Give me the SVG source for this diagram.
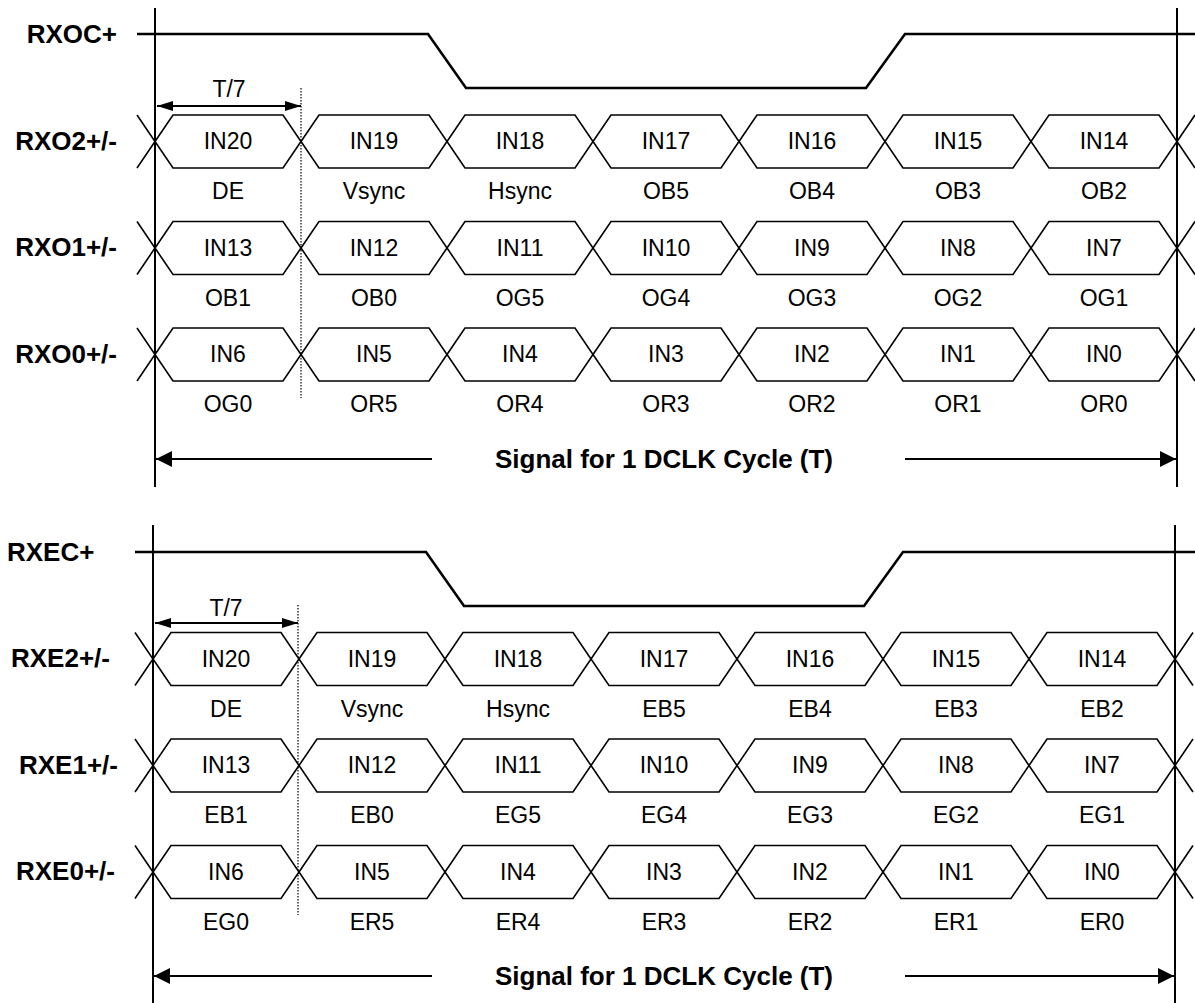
<svg xmlns="http://www.w3.org/2000/svg" xmlns:xlink="http://www.w3.org/1999/xlink" width="1195" height="1003" viewBox="0 0 1195 1003">
<style>
.bg{fill:#fff}
.clk{fill:none;stroke:#000;stroke-width:2.6;stroke-linejoin:miter}
.vl{stroke:#000;stroke-width:2;fill:none}
.dot{stroke:#000;stroke-width:1.2;stroke-dasharray:1.5 1.5;fill:none}
.hx{fill:#fff;stroke:#000;stroke-width:1.6;stroke-linejoin:miter}
.xe{fill:none;stroke:#000;stroke-width:1.6}
.arr{stroke:#000;stroke-width:2;fill:none}
.lbl{font-family:"Liberation Sans",Arial,sans-serif;font-weight:bold;font-size:26px;fill:#000}
.sig{font-family:"Liberation Sans",Arial,sans-serif;font-weight:bold;font-size:26px;fill:#000;text-anchor:middle}
.cell{font-family:"Liberation Sans",Arial,sans-serif;font-size:23px;fill:#000;text-anchor:middle}
</style>
<defs>
<polygon id="hex" points="0,0 18,-26.5 128,-26.5 146,0 128,26.5 18,26.5"/>
<path id="xl" d="M-18,-26.5 L0,0 L-18,26.5"/>
<path id="xr" d="M18,-26.5 L0,0 L18,26.5"/>
<marker id="big" viewBox="0 0 16 16" refX="16" refY="8" markerWidth="16" markerHeight="16" markerUnits="userSpaceOnUse" orient="auto"><path d="M0,0 L16,8 L0,16 z" fill="#000"/></marker>
<marker id="sm" viewBox="0 0 16 10" refX="16" refY="5" markerWidth="16" markerHeight="10" markerUnits="userSpaceOnUse" orient="auto"><path d="M0,0 L16,5 L0,10 z" fill="#000"/></marker>
</defs>
<rect class="bg" x="0" y="0" width="1195" height="1003"/>

<!-- ===== TOP PANEL (odd) ===== -->
<g id="top-frame">
<line class="vl" x1="155" y1="8" x2="155" y2="487"/>
<line class="vl" x1="1177" y1="8" x2="1177" y2="487"/>
<line class="dot" x1="301" y1="88" x2="301" y2="398"/>
</g>
<g id="RXOC">
<text class="lbl" x="117" y="43" text-anchor="end">RXOC+</text>
<polyline class="clk" points="137,34 428,34 466,88 866,88 905,34 1195,34"/>
</g>
<g id="top-t7">
<text class="cell" x="229" y="97">T/7</text>
<line class="arr" x1="229" y1="106" x2="157" y2="106" marker-end="url(#sm)"/>
<line class="arr" x1="229" y1="106" x2="301" y2="106" marker-end="url(#sm)"/>
</g>

<g id="RXO2">
<text class="lbl" x="117" y="149.5" text-anchor="end">RXO2+/-</text>
<use href="#xl" class="xe" x="155" y="141.5"/>
<use href="#xr" class="xe" x="1177" y="141.5"/>
<g id="o2-0"><use href="#hex" class="hx" x="155" y="141.5"/><text class="cell" x="228" y="149">IN20</text><text class="cell" x="228" y="199">DE</text></g>
<g id="o2-1"><use href="#hex" class="hx" x="301" y="141.5"/><text class="cell" x="374" y="149">IN19</text><text class="cell" x="374" y="199">Vsync</text></g>
<g id="o2-2"><use href="#hex" class="hx" x="447" y="141.5"/><text class="cell" x="520" y="149">IN18</text><text class="cell" x="520" y="199">Hsync</text></g>
<g id="o2-3"><use href="#hex" class="hx" x="593" y="141.5"/><text class="cell" x="666" y="149">IN17</text><text class="cell" x="666" y="199">OB5</text></g>
<g id="o2-4"><use href="#hex" class="hx" x="739" y="141.5"/><text class="cell" x="812" y="149">IN16</text><text class="cell" x="812" y="199">OB4</text></g>
<g id="o2-5"><use href="#hex" class="hx" x="885" y="141.5"/><text class="cell" x="958" y="149">IN15</text><text class="cell" x="958" y="199">OB3</text></g>
<g id="o2-6"><use href="#hex" class="hx" x="1031" y="141.5"/><text class="cell" x="1104" y="149">IN14</text><text class="cell" x="1104" y="199">OB2</text></g>
</g>

<g id="RXO1">
<text class="lbl" x="117" y="256" text-anchor="end">RXO1+/-</text>
<use href="#xl" class="xe" x="155" y="248"/>
<use href="#xr" class="xe" x="1177" y="248"/>
<g id="o1-0"><use href="#hex" class="hx" x="155" y="248"/><text class="cell" x="228" y="255.5">IN13</text><text class="cell" x="228" y="305.5">OB1</text></g>
<g id="o1-1"><use href="#hex" class="hx" x="301" y="248"/><text class="cell" x="374" y="255.5">IN12</text><text class="cell" x="374" y="305.5">OB0</text></g>
<g id="o1-2"><use href="#hex" class="hx" x="447" y="248"/><text class="cell" x="520" y="255.5">IN11</text><text class="cell" x="520" y="305.5">OG5</text></g>
<g id="o1-3"><use href="#hex" class="hx" x="593" y="248"/><text class="cell" x="666" y="255.5">IN10</text><text class="cell" x="666" y="305.5">OG4</text></g>
<g id="o1-4"><use href="#hex" class="hx" x="739" y="248"/><text class="cell" x="812" y="255.5">IN9</text><text class="cell" x="812" y="305.5">OG3</text></g>
<g id="o1-5"><use href="#hex" class="hx" x="885" y="248"/><text class="cell" x="958" y="255.5">IN8</text><text class="cell" x="958" y="305.5">OG2</text></g>
<g id="o1-6"><use href="#hex" class="hx" x="1031" y="248"/><text class="cell" x="1104" y="255.5">IN7</text><text class="cell" x="1104" y="305.5">OG1</text></g>
</g>

<g id="RXO0">
<text class="lbl" x="117" y="362.5" text-anchor="end">RXO0+/-</text>
<use href="#xl" class="xe" x="155" y="354.5"/>
<use href="#xr" class="xe" x="1177" y="354.5"/>
<g id="o0-0"><use href="#hex" class="hx" x="155" y="354.5"/><text class="cell" x="228" y="362">IN6</text><text class="cell" x="228" y="412">OG0</text></g>
<g id="o0-1"><use href="#hex" class="hx" x="301" y="354.5"/><text class="cell" x="374" y="362">IN5</text><text class="cell" x="374" y="412">OR5</text></g>
<g id="o0-2"><use href="#hex" class="hx" x="447" y="354.5"/><text class="cell" x="520" y="362">IN4</text><text class="cell" x="520" y="412">OR4</text></g>
<g id="o0-3"><use href="#hex" class="hx" x="593" y="354.5"/><text class="cell" x="666" y="362">IN3</text><text class="cell" x="666" y="412">OR3</text></g>
<g id="o0-4"><use href="#hex" class="hx" x="739" y="354.5"/><text class="cell" x="812" y="362">IN2</text><text class="cell" x="812" y="412">OR2</text></g>
<g id="o0-5"><use href="#hex" class="hx" x="885" y="354.5"/><text class="cell" x="958" y="362">IN1</text><text class="cell" x="958" y="412">OR1</text></g>
<g id="o0-6"><use href="#hex" class="hx" x="1031" y="354.5"/><text class="cell" x="1104" y="362">IN0</text><text class="cell" x="1104" y="412">OR0</text></g>
</g>

<g id="top-cycle">
<line class="arr" x1="432" y1="459" x2="156" y2="459" marker-end="url(#big)"/>
<line class="arr" x1="905" y1="459" x2="1176" y2="459" marker-end="url(#big)"/>
<text class="sig" x="664" y="468">Signal for 1 DCLK Cycle (T)</text>
</g>

<!-- ===== BOTTOM PANEL (even) ===== -->
<g id="bot-frame">
<line class="vl" x1="153" y1="525" x2="153" y2="1003"/>
<line class="vl" x1="1175" y1="525" x2="1175" y2="1003"/>
<line class="dot" x1="298" y1="605" x2="298" y2="915"/>
</g>
<g id="RXEC">
<text class="lbl" x="7" y="561">RXEC+</text>
<polyline class="clk" points="135,552 426,552 464,606 864,606 903,552 1195,552"/>
</g>
<g id="bot-t7">
<text class="cell" x="226" y="616">T/7</text>
<line class="arr" x1="226" y1="623" x2="155" y2="623" marker-end="url(#sm)"/>
<line class="arr" x1="226" y1="623" x2="298" y2="623" marker-end="url(#sm)"/>
</g>

<g id="RXE2">
<text class="lbl" x="110" y="667" text-anchor="end">RXE2+/-</text>
<use href="#xl" class="xe" x="153" y="659"/>
<use href="#xr" class="xe" x="1175" y="659"/>
<g id="e2-0"><use href="#hex" class="hx" x="153" y="659"/><text class="cell" x="226" y="666.5">IN20</text><text class="cell" x="226" y="716.5">DE</text></g>
<g id="e2-1"><use href="#hex" class="hx" x="299" y="659"/><text class="cell" x="372" y="666.5">IN19</text><text class="cell" x="372" y="716.5">Vsync</text></g>
<g id="e2-2"><use href="#hex" class="hx" x="445" y="659"/><text class="cell" x="518" y="666.5">IN18</text><text class="cell" x="518" y="716.5">Hsync</text></g>
<g id="e2-3"><use href="#hex" class="hx" x="591" y="659"/><text class="cell" x="664" y="666.5">IN17</text><text class="cell" x="664" y="716.5">EB5</text></g>
<g id="e2-4"><use href="#hex" class="hx" x="737" y="659"/><text class="cell" x="810" y="666.5">IN16</text><text class="cell" x="810" y="716.5">EB4</text></g>
<g id="e2-5"><use href="#hex" class="hx" x="883" y="659"/><text class="cell" x="956" y="666.5">IN15</text><text class="cell" x="956" y="716.5">EB3</text></g>
<g id="e2-6"><use href="#hex" class="hx" x="1029" y="659"/><text class="cell" x="1102" y="666.5">IN14</text><text class="cell" x="1102" y="716.5">EB2</text></g>
</g>

<g id="RXE1">
<text class="lbl" x="118" y="773.5" text-anchor="end">RXE1+/-</text>
<use href="#xl" class="xe" x="153" y="765.5"/>
<use href="#xr" class="xe" x="1175" y="765.5"/>
<g id="e1-0"><use href="#hex" class="hx" x="153" y="765.5"/><text class="cell" x="226" y="773">IN13</text><text class="cell" x="226" y="823">EB1</text></g>
<g id="e1-1"><use href="#hex" class="hx" x="299" y="765.5"/><text class="cell" x="372" y="773">IN12</text><text class="cell" x="372" y="823">EB0</text></g>
<g id="e1-2"><use href="#hex" class="hx" x="445" y="765.5"/><text class="cell" x="518" y="773">IN11</text><text class="cell" x="518" y="823">EG5</text></g>
<g id="e1-3"><use href="#hex" class="hx" x="591" y="765.5"/><text class="cell" x="664" y="773">IN10</text><text class="cell" x="664" y="823">EG4</text></g>
<g id="e1-4"><use href="#hex" class="hx" x="737" y="765.5"/><text class="cell" x="810" y="773">IN9</text><text class="cell" x="810" y="823">EG3</text></g>
<g id="e1-5"><use href="#hex" class="hx" x="883" y="765.5"/><text class="cell" x="956" y="773">IN8</text><text class="cell" x="956" y="823">EG2</text></g>
<g id="e1-6"><use href="#hex" class="hx" x="1029" y="765.5"/><text class="cell" x="1102" y="773">IN7</text><text class="cell" x="1102" y="823">EG1</text></g>
</g>

<g id="RXE0">
<text class="lbl" x="115" y="880" text-anchor="end">RXE0+/-</text>
<use href="#xl" class="xe" x="153" y="872"/>
<use href="#xr" class="xe" x="1175" y="872"/>
<g id="e0-0"><use href="#hex" class="hx" x="153" y="872"/><text class="cell" x="226" y="879.5">IN6</text><text class="cell" x="226" y="929.5">EG0</text></g>
<g id="e0-1"><use href="#hex" class="hx" x="299" y="872"/><text class="cell" x="372" y="879.5">IN5</text><text class="cell" x="372" y="929.5">ER5</text></g>
<g id="e0-2"><use href="#hex" class="hx" x="445" y="872"/><text class="cell" x="518" y="879.5">IN4</text><text class="cell" x="518" y="929.5">ER4</text></g>
<g id="e0-3"><use href="#hex" class="hx" x="591" y="872"/><text class="cell" x="664" y="879.5">IN3</text><text class="cell" x="664" y="929.5">ER3</text></g>
<g id="e0-4"><use href="#hex" class="hx" x="737" y="872"/><text class="cell" x="810" y="879.5">IN2</text><text class="cell" x="810" y="929.5">ER2</text></g>
<g id="e0-5"><use href="#hex" class="hx" x="883" y="872"/><text class="cell" x="956" y="879.5">IN1</text><text class="cell" x="956" y="929.5">ER1</text></g>
<g id="e0-6"><use href="#hex" class="hx" x="1029" y="872"/><text class="cell" x="1102" y="879.5">IN0</text><text class="cell" x="1102" y="929.5">ER0</text></g>
</g>

<g id="bot-cycle">
<line class="arr" x1="432" y1="976" x2="154" y2="976" marker-end="url(#big)"/>
<line class="arr" x1="905" y1="976" x2="1174" y2="976" marker-end="url(#big)"/>
<text class="sig" x="664" y="985">Signal for 1 DCLK Cycle (T)</text>
</g>
</svg>
